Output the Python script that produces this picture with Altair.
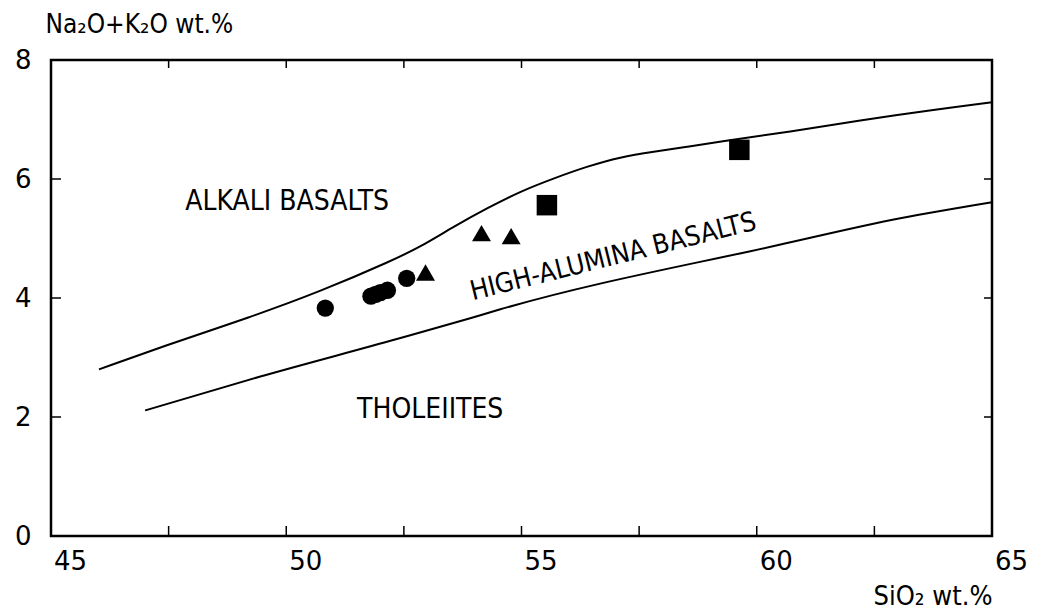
import altair as alt
import pandas as pd

# Boundary curves (SiO2, Na2O+K2O)
upper_x = [46.02, 47.75, 49.17, 50.73, 52.28, 52.85, 53.56, 54.27, 54.97, 55.68, 56.39, 57.10, 57.81, 58.52, 59.22, 60.5, 63.05, 65.0]
upper_y = [2.80, 3.29, 3.66, 4.11, 4.64, 4.86, 5.20, 5.51, 5.79, 6.01, 6.21, 6.37, 6.46, 6.54, 6.63, 6.77, 7.09, 7.29]
lower_x = [47.0, 49.45, 52.35, 53.91, 54.55, 60.46, 63.05, 65.0]
lower_y = [2.11, 2.68, 3.31, 3.66, 3.81, 4.89, 5.34, 5.61]

# Samples
pt_x = [50.83, 51.8, 51.9, 52.0, 52.15, 52.56, 52.96, 54.15, 54.78, 55.54, 59.63]
pt_y = [3.83, 4.03, 4.06, 4.09, 4.13, 4.33, 4.43, 5.09, 5.04, 5.56, 6.49]
pt_kind = ["circle", "circle", "circle", "circle", "circle", "circle",
           "triangle", "triangle", "triangle", "square", "square"]

# Field labels
lab_text = ["ALKALI BASALTS", "THOLEIITES"]
lab_x = [50.02, 53.06]
lab_y = [5.61, 2.12]
rot_text = ["HIGH-ALUMINA BASALTS"]
rot_x = [56.95]
rot_y = [4.69]

x_labels = [45, 50, 55, 60, 65]
y_labels = [0, 2, 4, 6, 8]
x_minor = [47.5, 50, 52.5, 55, 57.5, 60, 62.5]
y_minor = [2, 4, 6]

W, H = 941, 476
NARROW = "DejaVu Sans Condensed, Roboto Condensed, Liberation Sans Narrow, Roboto, sans-serif"
WIDE = "DejaVu Sans"

xs = alt.Scale(domain=[45, 65], nice=False, zero=False)
ys = alt.Scale(domain=[0, 8], nice=False)

xaxis = alt.Axis(values=x_labels, format="d", tickSize=0, domain=False, grid=False,
                 labelFont=WIDE, labelFontSize=26, labelColor="black",
                 labelPadding=12, labelOffset=19, labelFlush=False,
                 title="SiO₂ wt.%", titleFont=NARROW, titleFontSize=27,
                 titleFontWeight="normal", titleColor="black",
                 titleAnchor="end", titleAlign="right", titleBaseline="alphabetic",
                 titleX=W, titleY=68)
yaxis = alt.Axis(values=y_labels, format="d", tickSize=0, domain=False, grid=False,
                 labelFont=WIDE, labelFontSize=26, labelColor="black",
                 labelPadding=20, labelFlush=False,
                 title="Na₂O+K₂O wt.%", titleFont=NARROW, titleFontSize=26,
                 titleFontWeight="normal", titleColor="black", titleAngle=0,
                 titleAlign="left", titleBaseline="alphabetic",
                 titleX=-6, titleY=-28)

up_df = pd.DataFrame({"x": upper_x, "y": upper_y})
lo_df = pd.DataFrame({"x": lower_x, "y": lower_y})
pt_df = pd.DataFrame({"x": pt_x, "y": pt_y, "kind": pt_kind})
lab_df = pd.DataFrame({"x": lab_x, "y": lab_y, "t": lab_text})
rot_df = pd.DataFrame({"x": rot_x, "y": rot_y, "t": rot_text})
xt_df = pd.DataFrame({"x": x_minor})
yt_df = pd.DataFrame({"y": y_minor})

upper = alt.Chart(up_df).mark_line(color="black", strokeWidth=2, interpolate="basis").encode(
    x=alt.X("x:Q", scale=xs, axis=xaxis),
    y=alt.Y("y:Q", scale=ys, axis=yaxis),
    order="x:Q")
lower = alt.Chart(lo_df).mark_line(color="black", strokeWidth=2, interpolate="monotone").encode(
    x=alt.X("x:Q", scale=xs), y=alt.Y("y:Q", scale=ys), order="x:Q")

points = alt.Chart(pt_df).mark_point(filled=True, opacity=1, color="black").encode(
    x=alt.X("x:Q", scale=xs), y=alt.Y("y:Q", scale=ys),
    shape=alt.Shape("kind:N", scale=alt.Scale(domain=["circle", "triangle", "square"],
                                              range=["circle", "triangle-up", "square"]), legend=None),
    size=alt.Size("kind:N", scale=alt.Scale(domain=["circle", "triangle", "square"],
                                            range=[300, 420, 330]), legend=None))

labels = alt.Chart(lab_df).mark_text(font=NARROW, fontSize=28, color="black").encode(
    x=alt.X("x:Q", scale=xs), y=alt.Y("y:Q", scale=ys), text="t:N")
rot = alt.Chart(rot_df).mark_text(font=NARROW, fontSize=27, color="black", angle=346).encode(
    x=alt.X("x:Q", scale=xs), y=alt.Y("y:Q", scale=ys), text="t:N")

tick_style = dict(color="black", strokeWidth=1.5)
t_bottom = alt.Chart(xt_df).mark_rule(**tick_style).encode(
    x=alt.X("x:Q", scale=xs), y=alt.value(H), y2=alt.value(H - 10))
t_top = alt.Chart(xt_df).mark_rule(**tick_style).encode(
    x=alt.X("x:Q", scale=xs), y=alt.value(0), y2=alt.value(8))
t_left = alt.Chart(yt_df).mark_rule(**tick_style).encode(
    y=alt.Y("y:Q", scale=ys), x=alt.value(0), x2=alt.value(10))
t_right = alt.Chart(yt_df).mark_rule(**tick_style).encode(
    y=alt.Y("y:Q", scale=ys), x=alt.value(W), x2=alt.value(W - 8))

chart = alt.layer(upper, lower, points, labels, rot, t_bottom, t_top, t_left, t_right).properties(
    width=W, height=H,
    autosize=alt.AutoSizeParams(type="none"),
    padding={"left": 43, "top": 52, "right": 40, "bottom": 76},
    background="white",
).configure_view(stroke="black", strokeWidth=2.5)

chart.save("out.html", embed_options={"renderer": "svg", "actions": False})
